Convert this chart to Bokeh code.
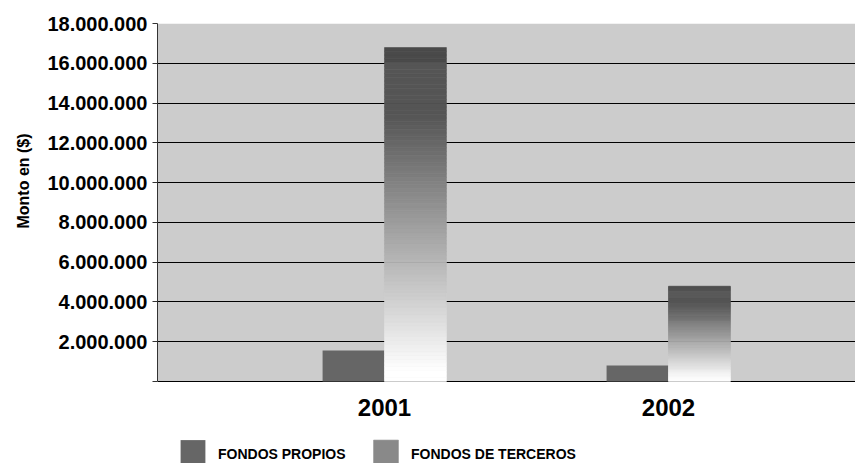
import math
from bokeh.plotting import figure
from bokeh.models import (ColumnDataSource, Range1d, FixedTicker, CustomJSTickFormatter,
                          Legend, LegendItem, Title, BoxAnnotation)
from bokeh.embed import file_html
from bokeh.resources import INLINE

# ---- data ----
years = ["2001", "2002"]
fondos_propios = [1560000, 800000]
fondos_terceros = [16790000, 4790000]
y_ticks = [0, 2000000, 4000000, 6000000, 8000000, 10000000, 12000000, 14000000, 16000000, 18000000]

FONT = "Liberation Sans"
xpos = [i + 1 for i in range(len(years))]
BAR_W = 0.218

p = figure(width=855, height=463, output_backend="svg", toolbar_location=None,
           x_range=Range1d(0.2007, 2.6585), y_range=Range1d(-4123000, 18000000),
           min_border_left=157, min_border_right=0, min_border_top=23, min_border_bottom=0)
p.background_fill_color = "white"
p.border_fill_color = "white"
p.outline_line_color = None

# grey plotting area
p.add_layout(BoxAnnotation(bottom=y_ticks[0], top=y_ticks[-1], fill_color="#cccccc",
                           fill_alpha=1.0, line_color=None, level="image"))

# solid bars
src_p = ColumnDataSource(dict(left=[x - BAR_W for x in xpos], right=xpos,
                              top=fondos_propios, bottom=[0] * len(xpos)))
r_prop = p.quad(left="left", right="right", top="top", bottom="bottom", source=src_p,
                fill_color="#666666", line_color=None)

# gradient bars built as bands of each value
N = 90
L, R, T, B, C = [], [], [], [], []
for x, v in zip(xpos, fondos_terceros):
    for k in range(N):
        bottom = v * k / N
        top = v * (k + 1) / N
        t = 1 - (k + 0.5) / N  # fraction from top
        if t < 0.045:
            g = 74
        else:
            g = int(round(min(max(40 + 222 * t, 85), 255)))
        col = "#%02x%02x%02x" % (g, g, g)
        L.append(x); R.append(x + BAR_W); T.append(top); B.append(bottom); C.append(col)
src_t = ColumnDataSource(dict(left=L, right=R, top=T, bottom=B, color=C))
r_terc = p.quad(left="left", right="right", top="top", bottom="bottom", source=src_t,
                fill_color="color", line_color="color", line_width=0.6)

# x axis pinned at y = 0
xa = p.xaxis[0]
xa.fixed_location = 0
xa.ticker = FixedTicker(ticks=xpos)
xa.major_label_overrides = {x: y for x, y in zip(xpos, years)}
xa.axis_line_color = None
xa.major_tick_line_color = None
xa.minor_tick_line_color = None
xa.major_tick_out = 0
xa.major_tick_in = 0
xa.major_label_standoff = 18
xa.major_label_text_font = FONT
xa.major_label_text_font_style = "bold"
xa.major_label_text_font_size = "24px"
xa.major_label_text_color = "black"

ya = p.yaxis[0]
ya.bounds = (y_ticks[0], y_ticks[-1])
ya.ticker = FixedTicker(ticks=y_ticks)
ya.formatter = CustomJSTickFormatter(code="""
if (tick == 0) { return ""; }
return Math.round(tick).toString().replace(/\\B(?=(\\d{3})+(?!\\d))/g, ".");
""")
ya.axis_line_color = "#333333"
ya.major_tick_line_color = "#333333"
ya.major_tick_out = 5
ya.major_tick_in = 0
ya.minor_tick_line_color = None
ya.major_label_standoff = 5
ya.major_label_text_font = FONT
ya.major_label_text_font_style = "bold"
ya.major_label_text_font_size = "20px"
ya.major_label_text_color = "black"

p.xgrid.grid_line_color = None
p.ygrid.grid_line_color = "black"
p.ygrid.grid_line_width = 1
p.ygrid.ticker = FixedTicker(ticks=y_ticks)

ytitle = Title(text="Monto en ($)", align="left", offset=235, standoff=22,
               vertical_align="top",
               text_font=FONT, text_font_style="bold", text_font_size="16px",
               text_color="black")
p.add_layout(ytitle, "left")

legend = Legend(items=[LegendItem(label="FONDOS PROPIOS", renderers=[r_prop], index=0),
                       LegendItem(label="FONDOS DE TERCEROS", renderers=[r_terc], index=N + 50)],
                orientation="horizontal", location=(20, -9),
                glyph_width=31, glyph_height=36, label_standoff=10, label_width=138,
                spacing=14, padding=0, margin=0,
                border_line_color=None, background_fill_alpha=0,
                label_text_font=FONT, label_text_font_style="bold",
                label_text_font_size="14px", label_text_color="black")
p.add_layout(legend, "center")

open("out.html", "w").write(file_html(p, INLINE))
